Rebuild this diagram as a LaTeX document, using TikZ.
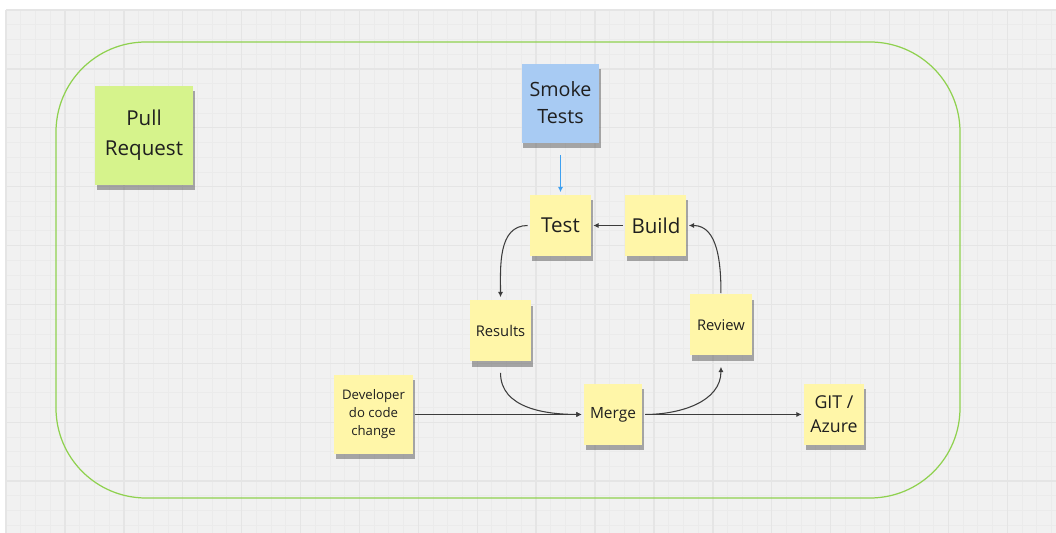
\documentclass[tikz,border=0pt]{standalone}
\usepackage{fontspec}
\setmainfont{Open Sans}
\usepackage{xcolor}
\usepackage{tikz}
\usetikzlibrary{arrows.meta,shadows}
\definecolor{boardgray} {RGB}{241,241,241}
\definecolor{gridminor} {RGB}{235,235,235}
\definecolor{gridmajor} {RGB}{229,229,229}
\definecolor{framegreen}{RGB}{143,209,79}
\definecolor{noteyellow}{RGB}{255,246,168}
\definecolor{notegreen} {RGB}{214,243,140}
\definecolor{noteblue}  {RGB}{168,203,243}
\definecolor{flowgray}  {RGB}{60,60,60}
\definecolor{smokeblue} {RGB}{62,160,240}

\begin{document}
\begin{tikzpicture}[x=0.02cm, y=-0.02cm, node distance=1.91cm, >={Latex[length=3pt, width=3pt]},
        every node/.style={inner sep=0pt, align=center, text=black!88},
        sticky/.style={fill=noteyellow, minimum width=1.22cm, minimum height=1.22cm,
            drop shadow={shadow xshift=1pt, shadow yshift=-3pt, opacity=.5, fill=black!65}},
        flow/.style={->, flowgray, line width=0.6pt}]
        \useasboundingbox (0,0) rectangle (1056,533);
        % board and its grid
        \fill[boardgray] (6,10) rectangle (1056,533);
        \foreach \i in {0,...,71}
            \draw[gridminor, line width=0.5pt] ({6+\i*14.725},10) -- ({6+\i*14.725},533);
        \foreach \i in {0,...,35}
            \draw[gridminor, line width=0.5pt] (6,{10+\i*14.725}) -- (1056,{10+\i*14.725});
        \foreach \i in {0,...,17}
            \draw[gridmajor, line width=0.8pt] ({6+\i*58.9},10) -- ({6+\i*58.9},533);
        \foreach \i in {0,...,8}
            \draw[gridmajor, line width=0.8pt] (6,{10+\i*58.9}) -- (1056,{10+\i*58.9});

        % frame round the pull request flow
        \draw[framegreen, line width=0.7pt, rounded corners=1.8cm] (56,42) rectangle (960,498);

        \node (pull) [sticky, fill=notegreen, minimum width=1.96cm, minimum height=1.98cm,
            font=\fontsize{11.7}{17.2}\selectfont] at (144,135.5) {Pull\\Request};

        \node (test) [sticky, font=\fontsize{11.7}{14}\selectfont] at (560.5,225.5) {Test};
        \node (build) [sticky, right of=test, font=\fontsize{11.7}{14}\selectfont] {Build};
        \node (smoke) [sticky, fill=noteblue, minimum width=1.56cm, minimum height=1.58cm,
            above of=test, yshift=0.54cm, font=\fontsize{11.2}{15.4}\selectfont] {Smoke\\Tests};
        \node (results) [sticky, below of=test, xshift=-1.2cm, yshift=-0.2cm,
            font=\fontsize{8.4}{10}\selectfont] {Results};
        \node (review) [sticky, minimum width=1.24cm, below of=build, xshift=1.3cm, yshift=-0.08cm,
            font=\fontsize{8.4}{10}\selectfont] {Review};
        \node (merge) [sticky, minimum width=1.16cm, below of=results, xshift=2.25cm, yshift=0.24cm,
            font=\fontsize{8.8}{10}\selectfont] {Merge};
        \node (dev) [sticky, minimum width=1.58cm, minimum height=1.58cm, left of=merge, xshift=-2.88cm,
            font=\fontsize{7.5}{10.2}\selectfont] {Developer\\do code\\change};
        \node (git) [sticky, minimum width=1.2cm, right of=merge, xshift=2.51cm,
            font=\fontsize{10.1}{13.7}\selectfont] {GIT /\\Azure};

        \draw[->, smokeblue, line width=0.6pt, shorten <=0.24cm, shorten >=0.05cm] (smoke) -- (test);
        \draw[flow, shorten <=0.04cm, shorten >=0.04cm] (build) -- (test);
        \draw[flow] ([xshift=-0.04cm]test.west) to[out=180, in=90] ([yshift=0.06cm]results.north);
        \draw[flow] ([yshift=-0.22cm]results.south) to[out=-90, in=180] ([xshift=-0.04cm]merge.west);
        \draw[flow] ([xshift=0.06cm]merge.east) to[out=0, in=-90] ([yshift=-0.22cm]review.south);
        \draw[flow] ([yshift=0.02cm]review.north) to[out=90, in=0] ([xshift=0.04cm]build.east);
        \draw[flow] ([xshift=0.04cm]dev.east) -- ([xshift=-0.04cm]merge.west);
        \draw[flow] ([xshift=0.06cm]merge.east) -- ([xshift=-0.04cm]git.west);
    \end{tikzpicture}
\end{document}
